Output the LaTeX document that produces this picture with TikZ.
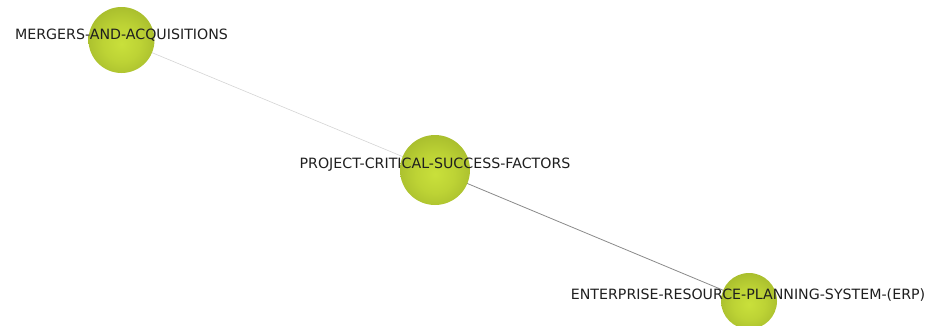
\documentclass[tikz,border=0pt]{standalone}
\usepackage{fontspec}
\setmainfont{DejaVu Sans}
\usetikzlibrary{backgrounds}
\definecolor{ballc}{HTML}{C9E03B}
\definecolor{ballm}{HTML}{BDD335}
\definecolor{balln}{HTML}{A8BD2D}
\definecolor{ballr}{HTML}{8D9F23}
\definecolor{edgelight}{HTML}{D4D4D4}
\definecolor{edgedark}{HTML}{8A8A8A}
\pgfdeclareradialshading{ballshade}{\pgfpoint{0bp}{-3bp}}{color(0bp)=(ballc); color(14bp)=(ballm); color(28bp)=(balln); color(36bp)=(ballr); color(70bp)=(ballr)}
\begin{document}
\begin{tikzpicture}[x=1pt,y=-1pt,
  ball/.style={circle,inner sep=0pt,minimum size=#1,shading=ballshade},
  lbl/.style={font=\fontsize{14.2}{17}\selectfont,text=black!88,inner sep=0pt},
  lightedge/.style={draw=edgelight,line width=0.6pt},
  darkedge/.style={draw=edgedark,line width=0.8pt}]
\useasboundingbox (0,0) rectangle (928,325);
\node[ball=66pt] (m) at (121.5,40) {};
\node[ball=70pt] (p) at (435,170) {};
\node[ball=56pt] (e) at (749,301) {};
\begin{scope}[on background layer]
\draw[lightedge] (m.center) -- (p.center);
\draw[darkedge] (p.center) -- (e.center);
\end{scope}
\node[lbl] (ml) at (121.5,35) {MERGERS-AND-ACQUISITIONS};
\node[lbl] (pl) at (435,165) {PROJECT-CRITICAL-SUCCESS-FACTORS};
\node[lbl] (el) at (748,295) {ENTERPRISE-RESOURCE-PLANNING-SYSTEM-(ERP)};
\end{tikzpicture}
\end{document}
